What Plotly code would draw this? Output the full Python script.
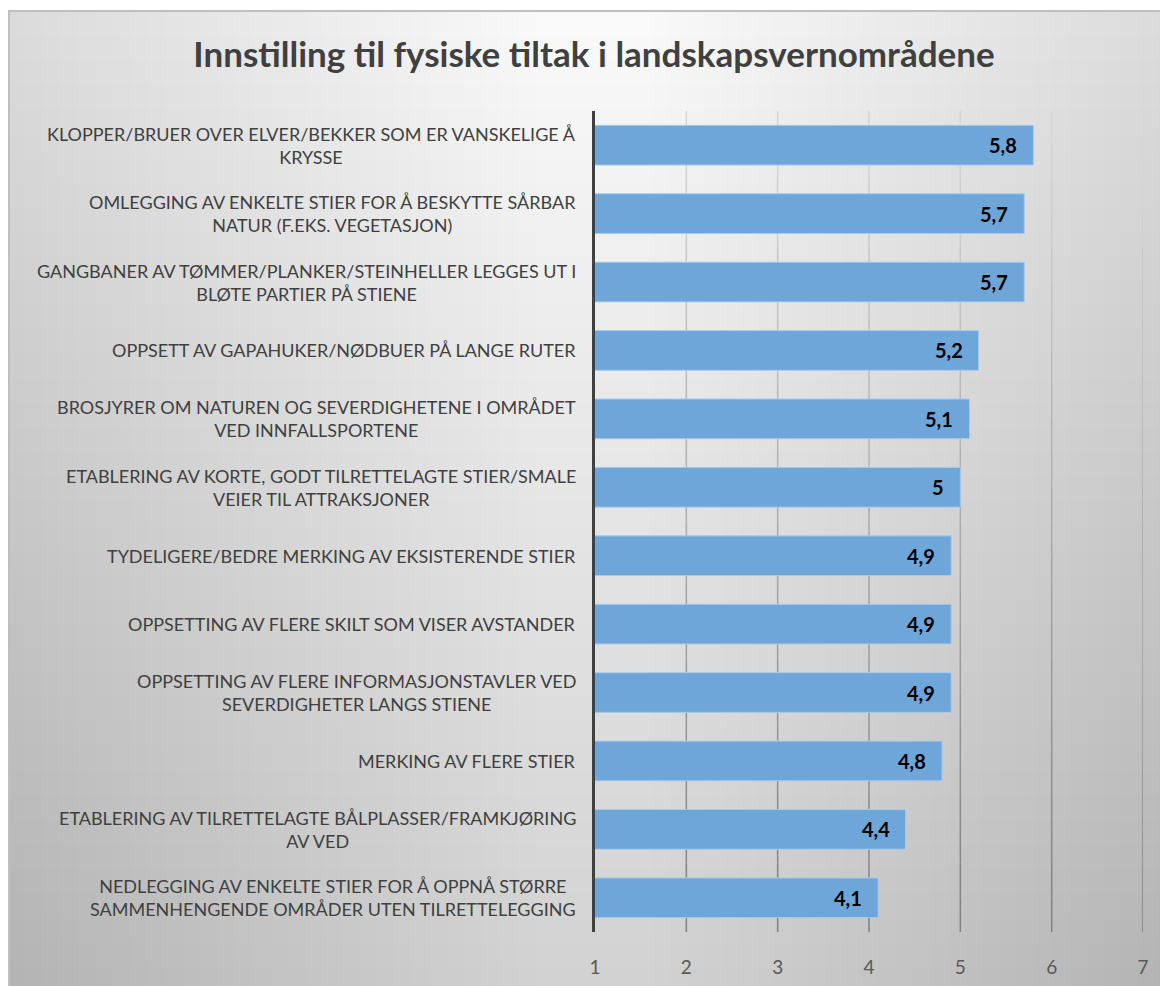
"""
Horizontal bar chart: Innstilling til fysiske tiltak i landskapsvernområdene
"""
import plotly.graph_objects as go

#* Data
categories = [
    "KLOPPER/BRUER OVER ELVER/BEKKER SOM ER VANSKELIGE Å<br>KRYSSE",
    "OMLEGGING AV ENKELTE STIER FOR Å BESKYTTE SÅRBAR<br>NATUR (F.EKS. VEGETASJON)",
    "GANGBANER AV TØMMER/PLANKER/STEINHELLER LEGGES UT I<br>BLØTE PARTIER PÅ STIENE",
    "OPPSETT AV GAPAHUKER/NØDBUER PÅ LANGE RUTER",
    "BROSJYRER OM NATUREN OG SEVERDIGHETENE I OMRÅDET<br>VED INNFALLSPORTENE",
    "ETABLERING AV KORTE, GODT TILRETTELAGTE STIER/SMALE<br>VEIER TIL ATTRAKSJONER",
    "TYDELIGERE/BEDRE MERKING AV EKSISTERENDE STIER",
    "OPPSETTING AV FLERE SKILT SOM VISER AVSTANDER",
    "OPPSETTING AV FLERE INFORMASJONSTAVLER VED<br>SEVERDIGHETER LANGS STIENE",
    "MERKING AV FLERE STIER",
    "ETABLERING AV TILRETTELAGTE BÅLPLASSER/FRAMKJØRING<br>AV VED",
    "NEDLEGGING AV ENKELTE STIER FOR Å OPPNÅ STØRRE<br>SAMMENHENGENDE OMRÅDER UTEN TILRETTELEGGING",
]
values = [5.8, 5.7, 5.7, 5.2, 5.1, 5.0, 4.9, 4.9, 4.9, 4.8, 4.4, 4.1]
x_ticks = [1, 2, 3, 4, 5, 6, 7]

title = "Innstilling til fysiske tiltak i landskapsvernområdene"

#* Pixel layout helpers (page coords; the page body adds an 8 px offset)
OFF = 8
W, H = 1160, 978
PL, PR, PT, PB = 595, 1143, 111, 932


def px_x(p):
    return (p - PL) / (PR - PL)


def px_y(p):
    return (PB - p) / (PB - PT)


FONT = "Lato"

fig = go.Figure()

fig.add_trace(go.Bar(
    x=values,
    y=categories,
    orientation="h",
    marker=dict(color="#6FA6DA", line=dict(color="#A8CAEB", width=1)),
    width=0.58,
    hoverinfo="x+y",
))

#* Background gradient (nested bands, so no seams)
shapes = []
left_edge, right_edge = OFF, OFF + W + 5
top, bottom = 11, OFF + H + 5
shapes.append(dict(
    type="rect", xref="paper", yref="paper", layer="below",
    x0=px_x(left_edge), x1=px_x(right_edge), y0=px_y(bottom), y1=px_y(top),
    fillcolor="rgb(249,249,249)", line=dict(width=0),
))
#* vertical fade: each band starts lower and adds a little grey
n_bands = 40
for i in range(1, n_bands):
    y0 = top + (bottom - top) * i / n_bands
    shapes.append(dict(
        type="rect", xref="paper", yref="paper", layer="below",
        x0=px_x(left_edge), x1=px_x(right_edge), y0=px_y(bottom), y1=px_y(y0),
        fillcolor="rgba(0,0,0,0.0052)", line=dict(width=0),
    ))
#* side darkening
n_side = 30
center = 594
for i in range(1, n_side + 1):
    wl = (center - left_edge) * i / n_side
    wr = (right_edge - center) * i / n_side
    for x0, x1 in [(left_edge, left_edge + wl * 0.9), (right_edge - wr * 0.9, right_edge)]:
        shapes.append(dict(
            type="rect", xref="paper", yref="paper", layer="below",
            x0=px_x(x0), x1=px_x(x1), y0=px_y(bottom), y1=px_y(top),
            fillcolor="rgba(0,0,0,0.0025)", line=dict(width=0),
        ))

#* Chart border
shapes.append(dict(
    type="line", xref="paper", yref="paper", layer="below",
    x0=px_x(left_edge), x1=px_x(right_edge), y0=px_y(11), y1=px_y(11),
    line=dict(color="#BFBFBF", width=2),
))
shapes.append(dict(
    type="line", xref="paper", yref="paper", layer="below",
    x0=px_x(left_edge + 1), x1=px_x(left_edge + 1), y0=px_y(11), y1=px_y(bottom),
    line=dict(color="#BFBFBF", width=2),
))

#* Vertical gridlines with a light-to-dark fade (drawn from the tick values)
n_seg = 24
for t in x_ticks[1:]:
    for i in range(n_seg):
        c = round(214 - (214 - 128) * i / (n_seg - 1))
        shapes.append(dict(
            type="line", xref="x", yref="paper", layer="below",
            x0=t, x1=t, y0=1 - i / n_seg, y1=1 - (i + 1) / n_seg,
            line=dict(color=f"rgb({c},{c},{c})", width=1.5),
        ))

#* Category labels (centered multi-line, right anchored)
annotations = []
for cat in categories:
    annotations.append(dict(
        x=0, xref="paper", y=cat, yref="y",
        text=cat, showarrow=False, xanchor="right", align="center",
        xshift=-17, font=dict(family=FONT, size=18, color="#404040"),
    ))

#* Value labels at bar ends
for cat, v in zip(categories, values):
    annotations.append(dict(
        x=v, y=cat, xref="x", yref="y",
        text=f"{v:g}".replace(".", ","), showarrow=False,
        xanchor="right", xshift=-14,
        font=dict(family=FONT, size=20, color="#000000", weight="bold"),
    ))

fig.update_layout(
    width=W,
    height=H,
    margin=dict(l=PL - OFF, r=W - (PR - OFF), t=PT - OFF, b=H - (PB - OFF)),
    paper_bgcolor="white",
    plot_bgcolor="rgba(0,0,0,0)",
    showlegend=False,
    shapes=shapes,
    annotations=annotations,
    title=dict(
        text=title,
        x=(594 - OFF) / W,
        xanchor="center",
        y=1 - (55 - OFF) / H,
        yanchor="middle",
        font=dict(family=FONT, size=35, color="#404040", weight="bold"),
    ),
    xaxis=dict(
        range=[1, 7],
        tickvals=x_ticks,
        showgrid=False,
        zeroline=False,
        ticks="",
        ticklabelstandoff=22,
        tickfont=dict(family=FONT, size=19, color="#595959"),
        fixedrange=True,
        automargin=False,
    ),
    yaxis=dict(
        autorange="reversed",
        showticklabels=False,
        showgrid=False,
        showline=True,
        linecolor="#404040",
        linewidth=3,
        ticks="",
        automargin=False,
    ),
)

fig.write_html("out.html")
